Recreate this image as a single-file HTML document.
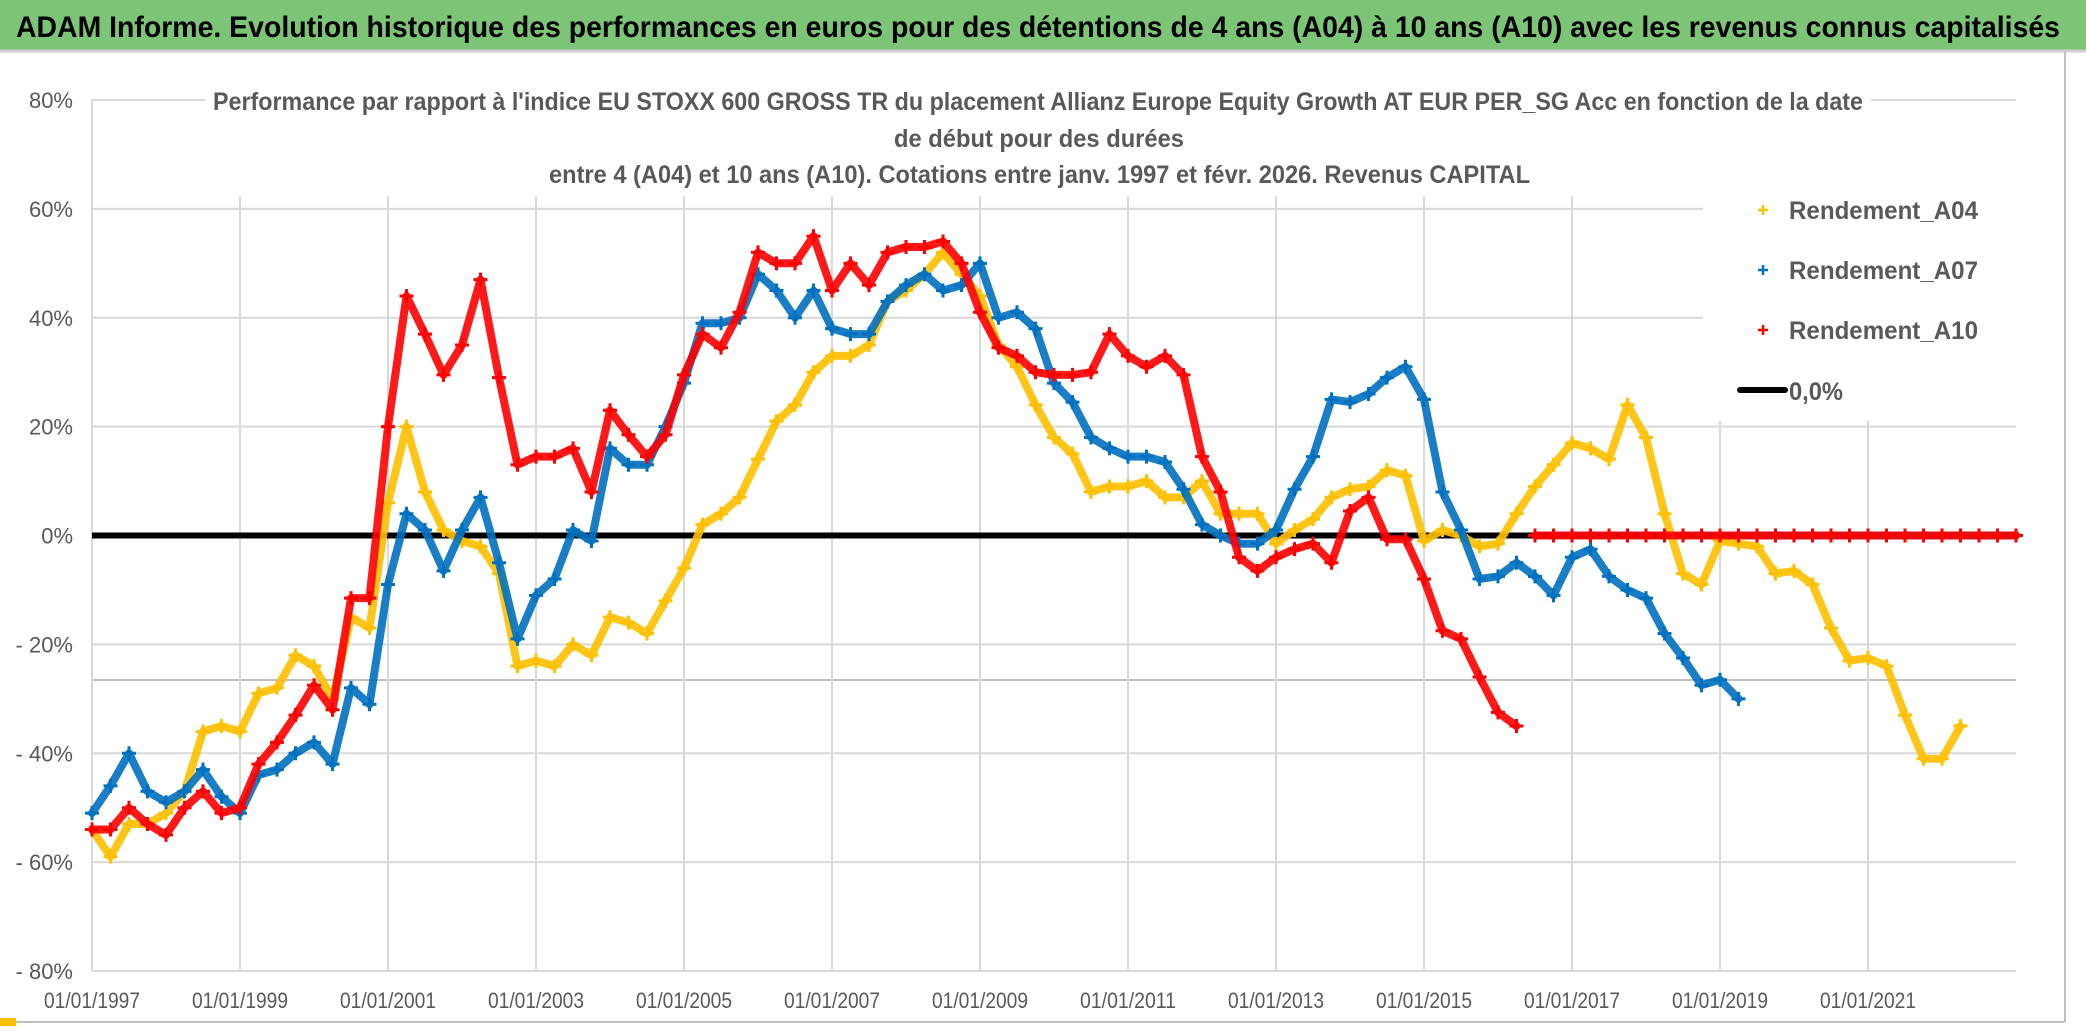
<!DOCTYPE html>
<html><head><meta charset="utf-8">
<style>
html,body{margin:0;padding:0;background:#fff;}
svg{display:block;}
text{font-family:"Liberation Sans",sans-serif;}
</style></head>
<body>
<svg id="chart" width="2086" height="1031" viewBox="0 0 2086 1031" xmlns="http://www.w3.org/2000/svg">
  <rect x="0" y="0" width="2086" height="1031" fill="#fff"/>
  <rect x="0" y="0" width="2086" height="50" fill="#7cc576"/>
  <line x1="0" y1="51" x2="2086" y2="51" stroke="#d0d0d0" stroke-width="3"/>
  <text x="16" y="37" font-size="30" font-weight="bold" fill="#000" textLength="2044" lengthAdjust="spacingAndGlyphs">ADAM Informe. Evolution historique des performances en euros pour des détentions de 4 ans (A04) à 10 ans (A10) avec les revenus connus capitalisés</text>
  <line x1="2065" y1="52" x2="2065" y2="1022" stroke="#bfbfbf" stroke-width="2"/>
  <line x1="0" y1="1022" x2="2065" y2="1022" stroke="#bfbfbf" stroke-width="2"/>
  <rect x="0" y="1018" width="16" height="8" fill="#ffc000"/>
  <g id="grid"></g>
  <g id="yaxis"></g>
  <g id="xaxis"></g>
  <g id="series"></g>
  <g id="covers"></g>
</svg>
<script>
// ---- data (quarterly, starting 1997.0) ----
const startYear = 1997;
const yTicks = [80, 60, 40, 20, 0, -20, -40, -60, -80];
const yTickLabels = ["80%", "60%", "40%", "20%", "0%", "- 20%", "- 40%", "- 60%", "- 80%"];
const xTickYears = [1997, 1999, 2001, 2003, 2005, 2007, 2009, 2011, 2013, 2015, 2017, 2019, 2021];
const xTickLabels = ["01/01/1997","01/01/1999","01/01/2001","01/01/2003","01/01/2005","01/01/2007","01/01/2009","01/01/2011","01/01/2013","01/01/2015","01/01/2017","01/01/2019","01/01/2021"];
const seriesNames = ["Rendement_A04", "Rendement_A07", "Rendement_A10"];
const a04 = [-54,-59,-53,-53,-51,-47,-36,-35,-36,-29,-28,-22,-24,-30,-15,-17,
  6,20,8,1,-1,-2,-7,-24,-23,-24,-20,-22,-15,-16,-18,-12,
  -6,2,4,7,14,21,24,30,33,33,35,43,45,48,52,48,
  44,35,31,24,18,15,8,9,9,10,7,7,10,4,4,4,
  -1.5,1,3,7,8.5,9,12,11,-1,1,0,-2,-1.5,4,9,13,
  17,16,14,24,18,4,-7,-9,-1,-1.5,-2,-7,-6.5,-9,-17,-23,
  -22.5,-24,-33,-41,-41,-35,0,0,0];
const a07 = [-51,-46,-40,-47,-49,-47,-43,-48,-51,-44,-43,-40,-38,-42,-28,-31,
  -9,4,1,-6.5,1,7,-5,-19,-11,-8,1,-1,16,13,13,20,
  28,39,39,40,48,45,40,45,38,37,37,43,46,48,45,46,
  50,40,41,38,28,24.5,18,16,14.5,14.5,13.5,8.5,2,0,-1.5,-1.5,
  1,8.5,14.5,25,24.5,26,29,31,25,8,1,-8,-7.5,-5,-7.5,-11,
  -4,-2.5,-7.5,-10,-11.5,-18,-22.5,-27.5,-26.5,-30,
  0,0,0,0,0,0,0,0,0,0,0,0,0,0,0];
const a10 = [-54,-54,-50,-53,-55,-50,-47,-51,-50,-42,-38,-33,-27.5,-32,-11.5,-11.5,
  20,44,37,29.5,35,47,29,13,14.5,14.5,16,8,23,18.5,14.5,18.5,
  29.5,37,34.5,41,52,50,50,55,45,50,46,52,53,53,54,50,
  41,34.5,33,30,29.5,29.5,30,37,33,31,33,29.5,14.5,8,-4,-6.5,
  -4,-2.5,-1.5,-5,4.5,7,-0.7,-0.7,-8,-17.5,-19,-26,-32.5,-35,
  0,0,0,0,0,0,0,0,0,0,0,0,0,0,0,0,0,0,0,0,0,0,0,0,0,0,0];
const colors = ["#ffc000", "#0070c0", "#ff0000"];

// ---- axes ----
const X0 = 92, X1 = 2016, YR0 = 1997, YR1 = 2023;
const Y0 = 100, Y1 = 971, V0 = 80, V1 = -80;
function xs(yr){ return X0 + (yr - YR0) * (X1 - X0) / (YR1 - YR0); }
function ys(v){ return Y0 + (V0 - v) * (Y1 - Y0) / (V0 - V1); }

const NS = "http://www.w3.org/2000/svg";
function mk(tag, attrs, parent){
  const e = document.createElementNS(NS, tag);
  for (const k in attrs) e.setAttribute(k, attrs[k]);
  parent.appendChild(e);
  return e;
}
const grid = document.getElementById('grid');
const yaxis = document.getElementById('yaxis');
const xaxis = document.getElementById('xaxis');
const series = document.getElementById('series');
const covers = document.getElementById('covers');

yTicks.forEach((v, i) => {
  const l = mk('line', {x1: X0, x2: X1, y1: ys(v), y2: ys(v), stroke: '#d9d9d9', 'stroke-width': 2}, grid);
  
  
  const t = mk('text', {x: 73, y: ys(v) + 8, 'font-size': 22, fill: '#595959', 'text-anchor': 'end'}, yaxis);
  t.textContent = yTickLabels[i];
  
  
});
const extra = mk('line', {x1: X0, x2: X1, y1: 680, y2: 680, stroke: '#c0c0c0', 'stroke-width': 2}, grid);



xTickYears.forEach((yr, i) => {
  const l = mk('line', {x1: xs(yr), x2: xs(yr), y1: Y0, y2: Y1, stroke: '#d9d9d9', 'stroke-width': 2}, grid);
  
  
  const t = mk('text', {x: xs(yr), y: 1008, 'font-size': 22, fill: '#595959', 'text-anchor': 'middle', textLength: 96, lengthAdjust: 'spacingAndGlyphs'}, xaxis);
  t.textContent = xTickLabels[i];
  
  
});
const ax = mk('line', {x1: X0, x2: X0, y1: Y0, y2: Y1, stroke: '#d9d9d9', 'stroke-width': 2}, grid);



const zl = mk('line', {x1: X0, x2: X1, y1: ys(0), y2: ys(0), stroke: '#000', 'stroke-width': 6}, series);



[a04, a07, a10].forEach((arr, si) => {
  const g = mk('g', {}, series);
  
  
  // split into segments: break on a jump into the zero tail
  const segs = [];
  let cur = [];
  arr.forEach((v, i) => {
    if (i > 0) {
      const p = arr[i - 1];
      if ((v === 0 || p === 0) && Math.abs(v - p) > 15) { segs.push(cur); cur = []; }
    }
    cur.push(xs(startYear + i * 0.25).toFixed(1) + ',' + ys(v).toFixed(1));
  });
  segs.push(cur);
  segs.forEach(s => {
    const pl = mk('polyline', {points: s.join(' '), fill: 'none', stroke: colors[si], 'stroke-width': 8, 'stroke-linejoin': 'round', 'stroke-linecap': 'round', opacity: 0.9}, g);
    
    
  });
  arr.forEach((v, i) => {
    const x = xs(startYear + i * 0.25), y = ys(v);
    const p = mk('path', {d: `M${x-7},${y}H${x+7}M${x},${y-7}V${y+7}`, stroke: colors[si], 'stroke-width': 3}, g);
    
    
  });
});

const tc = mk('rect', {x: 205, y: 84, width: 1666, height: 112, fill: '#fff'}, covers);


const titles = [
  ["Performance par rapport à l'indice EU STOXX 600 GROSS TR  du placement Allianz Europe Equity Growth AT EUR PER_SG Acc en fonction de la date", 213, 110, 1650],
  ["de début pour des durées", 894, 147, 290],
  ["entre 4 (A04) et 10 ans (A10). Cotations entre janv. 1997 et févr. 2026. Revenus CAPITAL", 549, 183, 981]
];
titles.forEach(tt => {
  const t = mk('text', {x: tt[1], y: tt[2], 'font-size': 25, 'font-weight': 'bold', fill: '#595959', textLength: tt[3], lengthAdjust: 'spacingAndGlyphs'}, covers);
  t.textContent = tt[0];
  
  
});

const lb = mk('rect', {x: 1703, y: 185, width: 314, height: 236, fill: '#fff'}, covers);


seriesNames.forEach((n, i) => {
  const y = 210 + i * 60;
  const m = mk('path', {d: `M1758,${y}H1768M1763,${y-5}V${y+5}`, stroke: colors[i], 'stroke-width': 2.5}, covers);
  
  
  const t = mk('text', {x: 1789, y: y + 9, 'font-size': 25, 'font-weight': 'bold', fill: '#595959', textLength: 189, lengthAdjust: 'spacingAndGlyphs'}, covers);
  t.textContent = n;
  
  
});
const ll = mk('line', {x1: 1740, x2: 1785, y1: 390, y2: 390, stroke: '#000', 'stroke-width': 6, 'stroke-linecap': 'round'}, covers);


const lt = mk('text', {x: 1789, y: 400, 'font-size': 25, 'font-weight': 'bold', fill: '#595959', textLength: 54, lengthAdjust: 'spacingAndGlyphs'}, covers);
lt.textContent = "0,0%";


</script>
</body></html>
